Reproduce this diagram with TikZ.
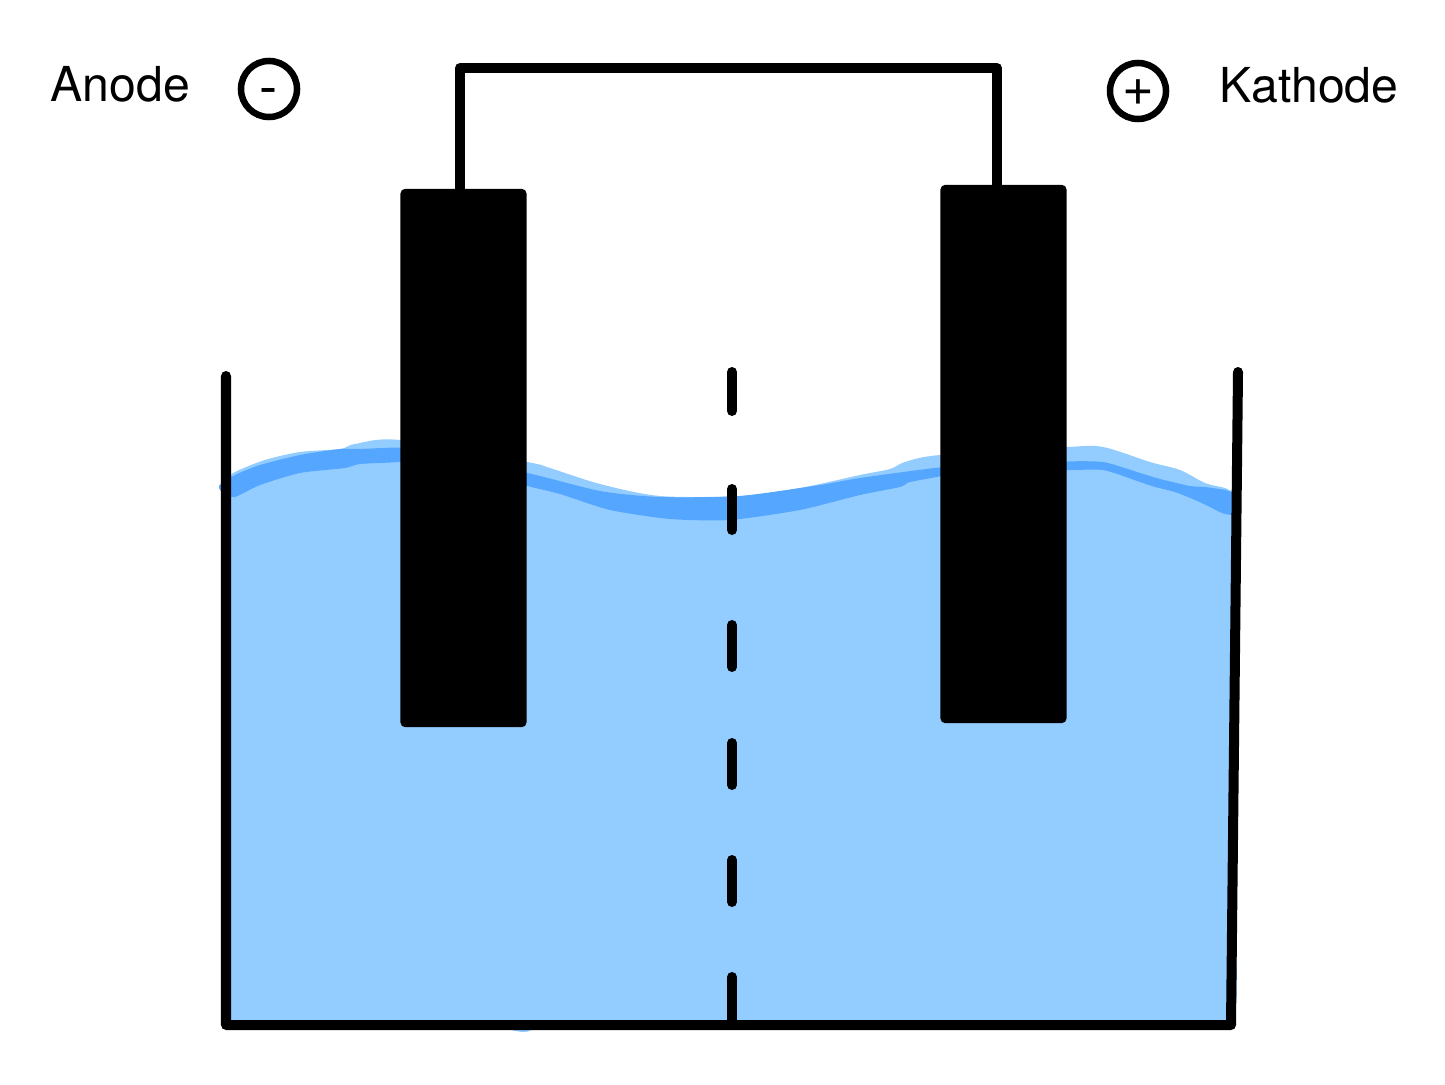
\documentclass[tikz,border=0pt]{standalone}
\usepackage{fontspec}
\setmainfont{TeX Gyre Heros}
\definecolor{WaterBlue}{HTML}{93CDFF}
\definecolor{SurfaceBlue}{HTML}{55A6FF}
\tikzset{
    wire/.style={line width=0.1cm, black, line cap=round, line join=round},
    electrode/.style={fill=black, draw=black, line width=0.03cm, rounded corners=1pt, minimum width=1.23cm, minimum height=5.35cm, inner sep=0pt},
    pole/.style={circle, draw=black, line width=0.065cm, minimum size=0.56cm, inner sep=0pt, text depth=0pt, font=\fontsize{15.5}{17}\selectfont},
    label/.style={anchor=base west, inner sep=0pt, font=\fontsize{13.7}{16}\selectfont},
}
\begin{document}
\begin{tikzpicture}[x=0.01cm, y=-0.01cm]

            \useasboundingbox (0,0) rectangle (1445,1085);

            \fill[WaterBlue] plot[smooth, tension=0.5] coordinates {(222,482) (235,472) (265,460) (300,452) (340,449) (355,444) (400,440)
                (527,462) (550,468) (600,484) (660,496) (740,496) (800,488) (860,475) (890,469) (905,462) (940,455)
                (1067,447) (1103,447) (1150,462) (1180,470) (1205,483) (1225,488) (1232,492)}
                -- (1237,995) -- (1231,1026) -- (545,1026) to[out=100, in=0] (525,1032) to[out=180, in=-10] (497,1026) -- (226,1026) -- (222,620) -- cycle;

            \fill[SurfaceBlue] plot[smooth cycle, tension=0.4] coordinates {(219,486) (235,475) (260,465) (300,455) (340,449) (360,449) (405,448)
                (405,461) (360,464) (345,468) (300,473) (260,485) (235,497) (224,494)};
            \fill[SurfaceBlue] plot[smooth cycle, tension=0.4] coordinates {(522,472) (600,491) (660,497) (740,496) (820,485) (860,478) (945,467)
                (945,475) (910,482) (900,487) (860,495) (800,510) (730,520) (670,519) (610,510) (560,494) (522,484)};
            \fill[SurfaceBlue] plot[smooth cycle, tension=0.4] coordinates {(1062,462) (1103,462) (1140,473) (1160,479) (1190,486) (1205,487) (1225,490) (1233,494)
                (1233,514) (1222,513) (1210,507) (1195,500) (1175,492) (1155,487) (1140,482) (1103,470) (1062,470)};

            \draw[wire] (226,376) -- (226,1025) -- (1231,1025) -- (1238,372);

            \foreach \ystart/\yend in {372/411, 489/530, 625/667, 743/785, 860/902, 977/1025} {
                \draw[wire] (732,\ystart) -- (732,\yend);
            }

            \node[electrode] (anodeplate) at (463.5,458) {};
            \node[electrode] (kathodeplate) at (1003.5,454) {};

            \coordinate (anodetop) at (460,68);
            \coordinate (kathodetop) at (997,68);
            \draw[wire] (anodeplate.north -| anodetop) -- (anodetop) -- (kathodetop) -- (kathodeplate.north -| kathodetop);

            \node[label] (anodelabel) at (50,102) {Anode};
            \node[label] (kathodelabel) at (1219,103) {Kathode};

            \node[pole, text height=9.6pt] (minuspole) at (269,89) {-};
            \node[pole, text height=8pt] (pluspole) at (1138,91) {+};

        \end{tikzpicture}
\end{document}
